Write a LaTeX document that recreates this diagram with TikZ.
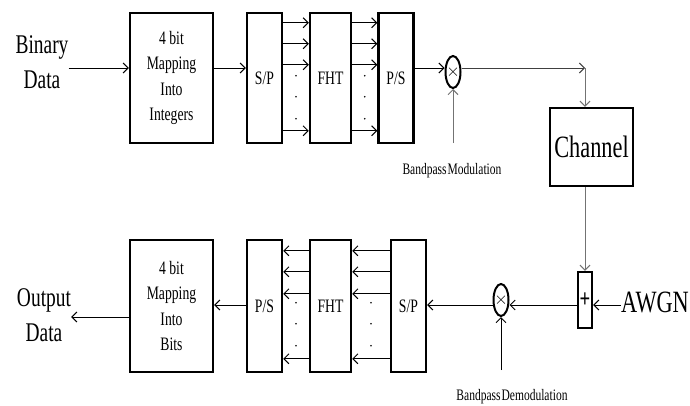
\documentclass[tikz,border=0pt]{standalone}
\usepackage{fontspec}
\setmainfont{Liberation Serif}[FakeStretch=0.72]
\usetikzlibrary{arrows.meta, shapes.geometric, calc}
\newcommand{\lblfont}{\fontsize{27}{35}\selectfont}
\newcommand{\chanfont}{\fontsize{31}{36}\selectfont}
\newcommand{\blkfont}{\fontsize{19}{25.5}\selectfont}
\newcommand{\notefont}{\fontsize{16}{18}\selectfont\spaceskip=1pt}

\begin{document}
\begin{tikzpicture}[x=1pt, y=-1pt,
  >={Straight Barb[length=5pt,width=10pt]},
  blk/.style={draw, line width=2.4pt, inner sep=0pt, align=center, font=\blkfont},
  wide/.style={blk, minimum width=83pt, minimum height=130pt},
  narrow/.style={blk, minimum width=35pt, minimum height=130pt},
  mid/.style={blk, minimum width=41pt, minimum height=130pt},
  mixer/.style={draw, ellipse, line width=2pt, minimum width=15pt,
                minimum height=32pt, inner sep=0pt,
                label={[inner sep=0pt, font=\fontsize{16}{16}\selectfont]center:$\times$}},
  lbl/.style={inner sep=0pt, align=center},
  sig/.style={->, line width=1pt},
  gsig/.style={sig, black!55}]
  \useasboundingbox (0,0) rectangle (690,405);
  % Transmitter
  \node[lbl, font=\lblfont] (bin) at (42,62) {Binary\\Data};
  \node[wide] (map1) at (171.5,78) {4 bit\\Mapping\\Into\\Integers};
  \node[narrow] (sp1) at (264.5,78) {S/P};
  \node[mid] (fht1) at (330.5,78) {FHT};
  \node[narrow] (ps1) at (396,78) {P/S};
  \node[mixer] (mix1) at (453,72) {};
  \node[lbl, font=\notefont] (bpm) at (452,171) {Bandpass Modulation};
  \coordinate (bpmin) at (453,143);
  \coordinate (tl) at (0,68);
  \coordinate (turn) at (585,68);
  % Channel
  \node[blk, minimum width=83pt, minimum height=78pt, font=\chanfont] (chan) at (591.5,147) {Channel};
  \node[blk, minimum width=14pt, minimum height=56pt, font=\fontsize{26}{26}\selectfont\bfseries] (add) at (585,300) {+};
  \node[lbl, font=\chanfont, anchor=east] (awgn) at (689,302) {AWGN};
  % Receiver
  \node[mixer] (mix2) at (501,300) {};
  \node[narrow, minimum height=132pt] (sp2) at (408.5,306) {S/P};
  \node[mid, minimum height=132pt] (fht2) at (330.5,306) {FHT};
  \node[narrow, minimum height=132pt] (ps2) at (264.5,306) {P/S};
  \node[wide, minimum height=132pt] (map2) at (171.5,306) {4 bit\\Mapping\\Into\\Bits};
  \node[lbl, font=\lblfont] (out) at (44,315) {Output\\Data};
  \node[lbl, font=\notefont] (bpd) at (512,397) {Bandpass Demodulation};
  \coordinate (bpdin) at (501,370);
  \coordinate (bl) at (0,305);
  \coordinate (ol) at (0,317);
  % Arrows, top
  \draw[sig] (bin.east |- tl) -- (map1.west |- tl);
  \draw[sig] (map1.east |- tl) -- (sp1.west |- tl);
  \foreach \o in {11,32,53,119} {
    \draw[sig] ([yshift=-\o pt]sp1.north east) -- ([yshift=-\o pt]fht1.north west);
    \draw[sig] ([yshift=-\o pt]fht1.north east) -- ([yshift=-\o pt]ps1.north west);
  }
  \foreach \o in {64,85,107} {
    \fill ([yshift=-\o pt]$(sp1.north east)!.5!(fht1.north west)$) circle (0.9pt);
    \fill ([yshift=-\o pt]$(fht1.north east)!.5!(ps1.north west)$) circle (0.9pt);
  }
  \draw[sig] (ps1.east |- tl) -- (mix1.west |- tl);
  \draw[gsig] (bpmin) -- (mix1.south);
  \draw[sig, black!75] (mix1.east |- tl) -- (turn);
  \draw[gsig] (turn) -- (turn |- chan.north);
  \draw[gsig] (turn |- chan.south) -- (add.north);
  % Arrows, bottom
  \draw[sig] (awgn.west |- bl) -- (add.east |- bl);
  \draw[sig] (add.west |- bl) -- (mix2.east |- bl);
  \draw[sig] (bpdin) -- (mix2.south);
  \draw[sig] (mix2.west |- bl) -- (sp2.east |- bl);
  \foreach \o in {12,33,55,120} {
    \draw[sig] ([yshift=-\o pt]sp2.north west) -- ([yshift=-\o pt]fht2.north east);
    \draw[sig] ([yshift=-\o pt]fht2.north west) -- ([yshift=-\o pt]ps2.north east);
  }
  \foreach \o in {64,85,107} {
    \fill ([yshift=-\o pt]$(sp2.north west)!.5!(fht2.north east)$) circle (0.9pt);
    \fill ([yshift=-\o pt]$(fht2.north west)!.5!(ps2.north east)$) circle (0.9pt);
  }
  \draw[sig] (ps2.west |- bl) -- (map2.east |- bl);
  \draw[sig] (map2.west |- ol) -- (out.east |- ol);
\end{tikzpicture}
\end{document}
